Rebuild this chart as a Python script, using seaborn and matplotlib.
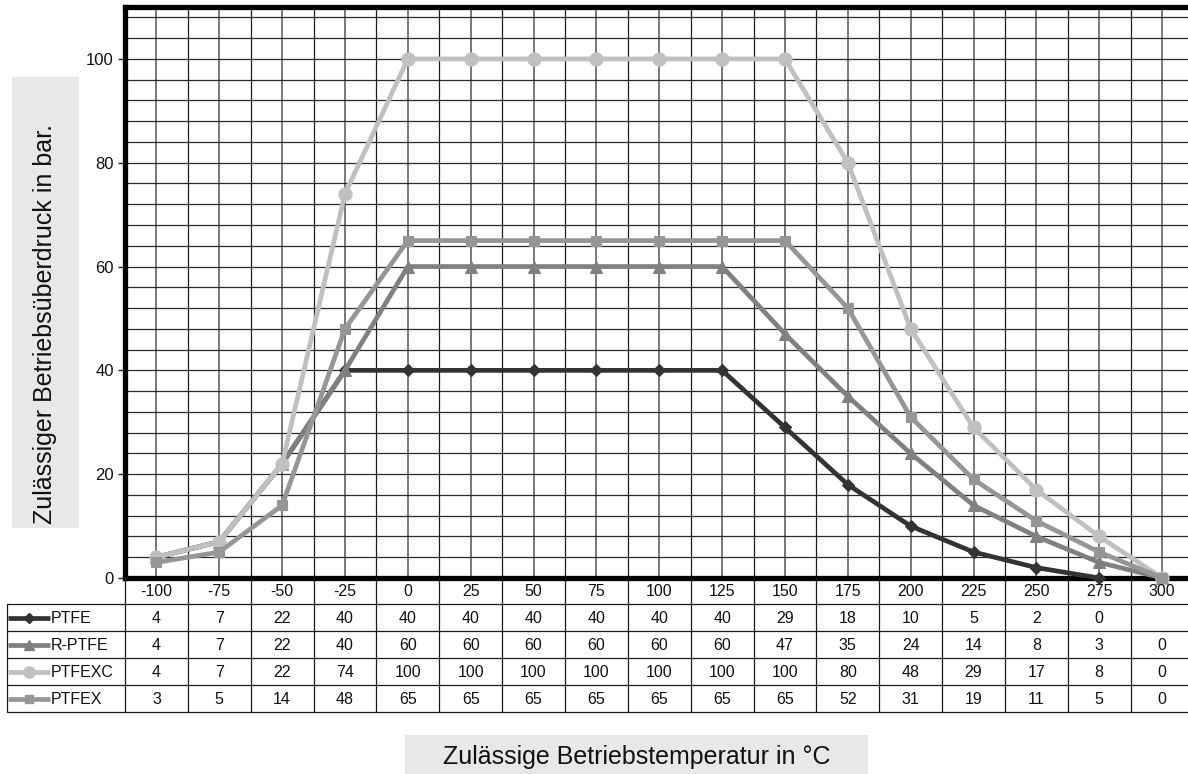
import matplotlib
matplotlib.use("Agg")
import matplotlib.pyplot as plt
from matplotlib.patches import Rectangle
from matplotlib.lines import Line2D
import numpy as np
import pandas as pd
import seaborn as sns

# ---------------- data ----------------
categories = ["-100", "-75", "-50", "-25", "0", "25", "50", "75", "100",
              "125", "150", "175", "200", "225", "250", "275", "300"]
series_names = ["PTFE", "R-PTFE", "PTFEXC", "PTFEX"]
ptfe   = [4, 7, 22, 40, 40, 40, 40, 40, 40, 40, 29, 18, 10, 5, 2, 0, None]
r_ptfe = [4, 7, 22, 40, 60, 60, 60, 60, 60, 60, 47, 35, 24, 14, 8, 3, 0]
ptfexc = [4, 7, 22, 74, 100, 100, 100, 100, 100, 100, 100, 80, 48, 29, 17, 8, 0]
ptfex  = [3, 5, 14, 48, 65, 65, 65, 65, 65, 65, 65, 52, 31, 19, 11, 5, 0]
y_ticks = [0, 20, 40, 60, 80, 100]
y_label = "Zulässiger Betriebsüberdruck in bar."
x_label = "Zulässige Betriebstemperatur in °C"

values = [ptfe, r_ptfe, ptfexc, ptfex]
colors = ["#333333", "#808080", "#c0c0c0", "#969696"]
markers = ["D", "^", "o", "s"]
msizes = [6.5, 9, 9.5, 7.5]

# ---------------- figure ----------------
sns.set_theme(style="white")
plt.rcParams["font.family"] = ["Liberation Sans", "DejaVu Sans"]

W, H = 1188, 774
fig = plt.figure(figsize=(W / 100, H / 100), dpi=100)
fig.patch.set_facecolor("white")

def fx(px):
    return px / W

def fy(py):
    return 1 - py / H

left_px, right_px = 125, 1193.5
top_px, bottom_px = 7, 578
ax = fig.add_axes([fx(left_px), fy(bottom_px), fx(right_px - left_px), (bottom_px - top_px) / H])
n = len(categories)
ax.set_xlim(-0.5, n - 0.5)
ax.set_ylim(0, 110)
ax.set_facecolor("white")

# grid
for k in range(n):
    ax.axvline(k, color="#6e6e6e", lw=1.3, zorder=1)
    ax.axvline(k + 0.5, color="#1e1e1e", lw=0.9, zorder=1)
for yv in np.arange(4, 110, 4):
    ax.axhline(yv, color="#2a2a2a", lw=0.9, zorder=1)

# lines
xs = np.arange(n)
for name, vals, c, m, ms in zip(series_names, values, colors, markers, msizes):
    df = pd.DataFrame({"x": xs, "y": vals}).dropna()
    sns.lineplot(data=df, x="x", y="y", ax=ax, color=c, lw=3.4, marker=m,
                 markersize=ms, markeredgecolor=c, markeredgewidth=0.8,
                 clip_on=False, zorder=5, legend=False,
                 solid_joinstyle="round", solid_capstyle="round")

ax.set_xlabel("")
ax.set_ylabel("")
ax.set_xticks([])
ax.set_yticks(y_ticks)
ax.set_yticklabels([str(v) for v in y_ticks], fontsize=12, color="#111111")
ax.tick_params(axis="y", which="major", direction="out", length=5, width=1,
               color="#222222", pad=3, left=True)
for s in ["left", "bottom", "top"]:
    ax.spines[s].set_visible(True)
    ax.spines[s].set_color("black")
    ax.spines[s].set_linewidth(3.8)
    ax.spines[s].set_zorder(4)
ax.spines["right"].set_visible(False)

# ---------------- data table ----------------
tab_left_px = 7
row_edges = [578, 604, 631, 658, 685, 712]
tab = fig.add_axes([fx(left_px), fy(row_edges[-1]), fx(right_px - left_px),
                    (row_edges[-1] - row_edges[0]) / H])
tab.set_xlim(-0.5, n - 0.5)
tab.set_ylim(row_edges[-1], row_edges[0])
tab.axis("off")
unit = (right_px - left_px) / n
x_tab_left = -0.5 - (left_px - tab_left_px) / unit

lc = "#1a1a1a"
for ry in row_edges[1:]:
    tab.plot([x_tab_left, n + 1], [ry, ry], color=lc, lw=0.9, clip_on=False)
for k in range(n + 1):
    tab.plot([k - 0.5, k - 0.5], [row_edges[0], row_edges[-1]], color=lc, lw=0.9,
             clip_on=False)
tab.plot([x_tab_left, x_tab_left], [row_edges[1], row_edges[-1]], color=lc, lw=0.9,
         clip_on=False)

hy = (row_edges[0] + row_edges[1]) / 2 + 1
for k, cat in enumerate(categories):
    tab.text(k, hy, cat, ha="center", va="center", fontsize=11.5, color="#111111")

for r, (name, vals, c, m, ms) in enumerate(zip(series_names, values, colors, markers, msizes)):
    cy = (row_edges[r + 1] + row_edges[r + 2]) / 2 + 1
    for k, v in enumerate(vals):
        if v is None:
            continue
        tab.text(k, cy, str(v), ha="center", va="center", fontsize=11.5, color="#111111")
    kx0 = x_tab_left + 1 / unit
    kx1 = x_tab_left + 43 / unit
    kxm = x_tab_left + 22 / unit
    tab.add_line(Line2D([kx0, kx1], [cy - 1, cy - 1], color=c, lw=3.4, clip_on=False,
                        solid_capstyle="butt"))
    tab.add_line(Line2D([kxm], [cy - 1], color=c, marker=m, markersize=ms * 0.85,
                        markeredgecolor=c, clip_on=False))
    tab.text(x_tab_left + 44 / unit, cy, name, ha="left", va="center", fontsize=11.5,
             color="#111111")

# ---------------- axis label boxes ----------------
fig.patches.append(Rectangle((fx(12), fy(528)), fx(79 - 12), (528 - 77) / H,
                             transform=fig.transFigure, facecolor="#e8e8e8",
                             edgecolor="none", zorder=0))
fig.text(fx(45), fy(324), y_label, rotation=90, ha="center", va="center",
         fontsize=18, color="#111111")

fig.patches.append(Rectangle((fx(405), fy(774)), fx(868 - 405), (774 - 735) / H,
                             transform=fig.transFigure, facecolor="#e8e8e8",
                             edgecolor="none", zorder=0))
fig.text(fx(637), fy(757), x_label, ha="center", va="center", fontsize=18,
         color="#111111")

fig.savefig("out.png", dpi=100, facecolor="white")
